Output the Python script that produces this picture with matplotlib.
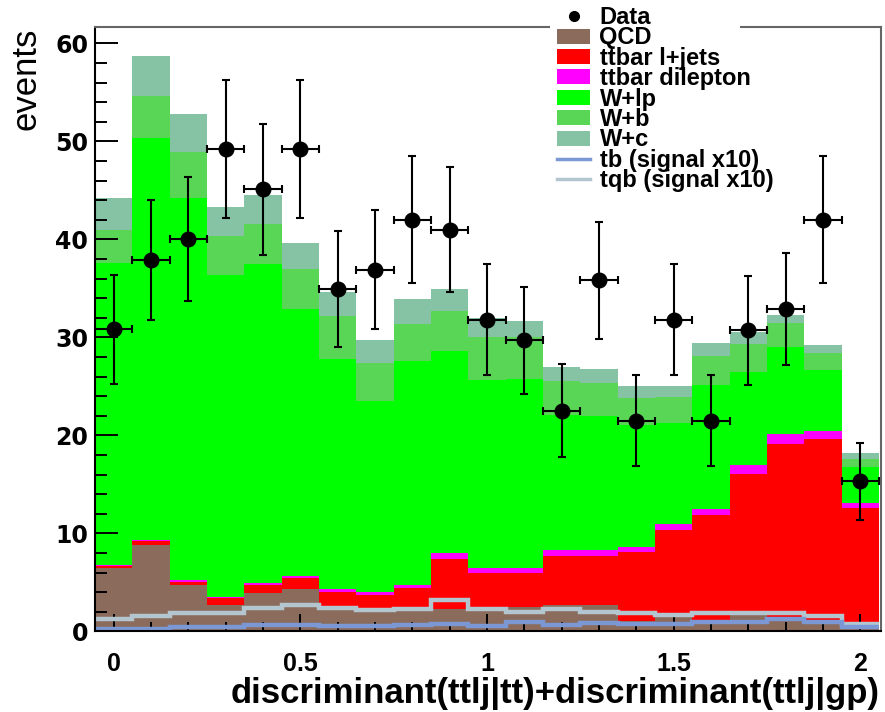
import numpy as np
import matplotlib
matplotlib.use('Agg')
import matplotlib.pyplot as plt
from matplotlib.patches import Patch, Rectangle
from matplotlib.lines import Line2D
from matplotlib.ticker import MultipleLocator
from matplotlib.font_manager import FontProperties

plt.rcParams['font.family'] = ['Liberation Sans', 'DejaVu Sans']

# ---------------- data ----------------
bin_centers = [0.0, 0.1, 0.2, 0.3, 0.4, 0.5, 0.6, 0.7, 0.8, 0.9, 1.0,
               1.1, 1.2, 1.3, 1.4, 1.5, 1.6, 1.7, 1.8, 1.9, 2.0]
bin_width = 0.1

data = [30.8, 37.9, 40.0, 49.2, 45.1, 49.2, 34.9, 36.9, 42.0, 41.0, 31.8,
        29.7, 22.5, 35.8, 21.5, 31.8, 21.5, 30.7, 32.9, 42.0, 15.3]

qcd = [6.5, 8.8, 4.7, 2.7, 3.9, 4.3, 2.5, 2.3, 2.3, 2.3, 2.4,
       2.5, 2.7, 2.7, 1.1, 1.5, 1.15, 1.8, 1.15, 0.8, 0.5]
ttbar_ljets = [0.2, 0.4, 0.35, 0.65, 0.85, 1.15, 1.55, 1.4, 2.1, 5.1, 3.6,
               3.5, 5.0, 5.0, 7.0, 8.8, 10.75, 14.3, 17.95, 18.8, 12.1]
ttbar_dilep = [0.1, 0.15, 0.15, 0.15, 0.15, 0.15, 0.25, 0.35, 0.3, 0.6, 0.5,
               0.5, 0.6, 0.6, 0.5, 0.6, 0.6, 0.9, 1.0, 0.8, 0.5]
w_lp = [30.8, 40.95, 39.0, 32.9, 32.6, 27.3, 23.5, 19.45, 22.9, 20.6, 19.1,
        19.2, 13.8, 13.7, 12.5, 10.4, 12.6, 9.5, 8.9, 6.3, 3.7]
w_b = [3.4, 4.3, 4.7, 3.9, 4.1, 4.1, 4.4, 3.9, 3.8, 4.1, 4.4,
       4.3, 3.4, 3.3, 2.7, 2.6, 3.0, 2.8, 2.5, 1.7, 0.8]
w_c = [3.2, 4.1, 3.9, 3.0, 2.9, 2.6, 2.4, 2.3, 2.5, 2.2, 2.0,
       1.7, 1.5, 1.5, 1.2, 1.1, 1.3, 1.2, 0.8, 0.8, 0.6]

tb_signal = [0.2, 0.2, 0.4, 0.45, 0.65, 0.65, 0.5, 0.55, 0.65, 0.7, 0.55,
             0.9, 0.65, 0.8, 0.7, 0.75, 0.9, 0.9, 1.3, 0.9, 0.4]
tqb_signal = [1.25, 1.6, 1.9, 1.9, 2.4, 2.7, 2.35, 2.2, 2.25, 3.2, 2.25,
              2.0, 2.25, 2.0, 1.9, 1.7, 1.85, 1.85, 1.9, 1.6, 0.75]

stack_labels = ['QCD', 'ttbar l+jets', 'ttbar dilepton', 'W+lp', 'W+b', 'W+c']
stack_values = [qcd, ttbar_ljets, ttbar_dilep, w_lp, w_b, w_c]
stack_colors = ['#8b6b5c', '#ff0000', '#ff00ff', '#00ff00', '#5ad657', '#86c3a4']
tb_color = '#7b98d4'
tqb_color = '#b3c5cf'

x_ticks = [0, 0.5, 1, 1.5, 2]
x_ticklabels = ['0', '0.5', '1', '1.5', '2']
y_ticks = [0, 10, 20, 30, 40, 50, 60]

# ---------------- figure ----------------
W, H = 885, 712
fig = plt.figure(figsize=(W / 100, H / 100), dpi=100)
ax = fig.add_axes([95 / W, 1 - 631.3 / H, (881 - 95) / W, (631.3 - 26.7) / H])

centers = np.array(bin_centers)
edges = np.concatenate([centers - bin_width / 2, [centers[-1] + bin_width / 2]])

cum = np.zeros(len(centers))
for vals, col in zip(stack_values, stack_colors):
    top = cum + np.array(vals)
    ax.stairs(top, edges, baseline=cum, fill=True, color=col, lw=0, zorder=1)
    cum = top

ax.stairs(tqb_signal, edges, baseline=None, color=tqb_color, lw=3.2, zorder=2)
ax.stairs(tb_signal, edges, baseline=None, color=tb_color, lw=3.2, zorder=2)

d = np.array(data)
ax.errorbar(centers, d, yerr=np.sqrt(d), xerr=bin_width / 2, fmt='o',
            color='black', ms=10.5, elinewidth=1.5, capsize=3, capthick=1.5,
            zorder=10)

ax.set_xlim(-0.05, 2.055)
ax.set_ylim(0, 61.7)

ax.set_xticks(x_ticks)
ax.set_xticklabels(x_ticklabels)
ax.set_yticks(y_ticks)
ax.xaxis.set_minor_locator(MultipleLocator(0.1))
ax.yaxis.set_minor_locator(MultipleLocator(2))

ax.tick_params(axis='both', which='both', direction='in', width=1.4,
               top=False, right=False)
ax.tick_params(axis='y', which='major', length=16.5, pad=5)
ax.tick_params(axis='y', which='minor', length=8.5)
ax.tick_params(axis='x', which='major', length=12, pad=15)
ax.tick_params(axis='x', which='minor', length=6.5)

for lab in ax.get_yticklabels():
    lab.set_fontfamily('DejaVu Sans')
    lab.set_fontweight('bold')
    lab.set_fontsize(17)
for lab in ax.get_xticklabels():
    lab.set_fontfamily('Liberation Sans')
    lab.set_fontweight('bold')
    lab.set_fontsize(18)

for s in ['left', 'bottom']:
    ax.spines[s].set_color('black')
    ax.spines[s].set_linewidth(1.5)
for s in ['top', 'right']:
    ax.spines[s].set_color('#666666')
    ax.spines[s].set_linewidth(1.5)

# white box behind legend breaking the top frame line
ax.add_patch(Rectangle((550 / W, 1 - 40 / H), 190 / W, 40 / H,
                       transform=fig.transFigure, facecolor='white',
                       edgecolor='none', clip_on=False, zorder=4))

handles = [Line2D([], [], marker='o', color='black', ls='none', ms=7)]
for lab, col in zip(stack_labels, stack_colors):
    handles.append(Patch(facecolor=col, edgecolor='none'))
handles.append(Line2D([], [], color=tb_color, lw=2.5))
handles.append(Line2D([], [], color=tqb_color, lw=2.5))
labels = ['Data'] + stack_labels + ['tb (signal x10)', 'tqb (signal x10)']

leg = ax.legend(handles, labels, loc='upper left',
                bbox_to_anchor=(557 / W, 1 - 6 / H),
                bbox_transform=fig.transFigure, frameon=False,
                prop=FontProperties(family='Liberation Sans', weight='bold', size=17),
                handlelength=1.4, handleheight=0.6, handletextpad=0.4,
                labelspacing=-0.11, borderpad=0, borderaxespad=0)
leg.set_zorder(6)

fig.text(880 / W, 1 - 703 / H, 'discriminant(ttlj|tt)+discriminant(ttlj|gp)',
         ha='right', va='baseline', fontsize=25, fontweight='bold',
         family='Liberation Sans')
fig.text(26 / W, 1 - 28 / H, 'events', rotation=90, ha='center', va='top',
         fontsize=25, family='Liberation Sans')

fig.savefig('out.png', dpi=100)
